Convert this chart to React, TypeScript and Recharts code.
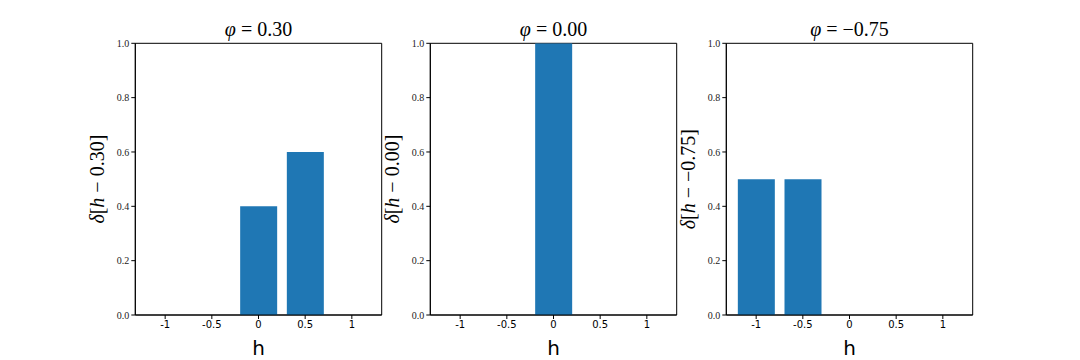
import { BarChart, Bar, XAxis, YAxis, Label, ReferenceArea } from 'recharts';

// support points of the distribution and tick values
const hValues = [-1, -0.5, 0, 0.5, 1];
const xTicks = [-1, -0.5, 0, 0.5, 1];
const yTicks = [0, 0.2, 0.4, 0.6, 0.8, 1];
const xDomain = [-1.32, 1.32];

// phi for each panel and the weight placed on each h
const phiLabels = ['0.30', '0.00', '\u22120.75'];
const weightsPhi030 = [0, 0, 0.4, 0.6, 0];
const weightsPhi000 = [0, 0, 1, 0, 0];
const weightsPhiNeg075 = [0.5, 0.5, 0, 0, 0];

const panelWeights = [weightsPhi030, weightsPhi000, weightsPhiNeg075];

const BLUE = '#1f77b4';
const SERIF = 'Liberation Serif, DejaVu Serif, serif';
const SANS = 'DejaVu Sans, sans-serif';

const CHART_W = 340;
const CHART_H = 360;
const Y_AXIS_W = 40;
const X_AXIS_H = 30;

function Panel({ weights, phi, left }: { weights: number[]; phi: string; left: number }) {
  const data = hValues.map((h, i) => ({ h, w: weights[i] }));

  return (
    <div style={{ position: 'absolute', left, top: 0 }}>
      <BarChart
        width={CHART_W}
        height={CHART_H}
        data={data}
        margin={{ top: 43.3, right: 18.3, left: 75.3 - Y_AXIS_W, bottom: 45 - X_AXIS_H }}
      >
        <XAxis
          dataKey="h"
          type="number"
          domain={xDomain}
          ticks={xTicks}
          allowDataOverflow
          height={X_AXIS_H}
          stroke="#000"
          tickSize={4}
          tick={{ fontSize: 10, fill: '#000', style: { fontFamily: SANS } }}
          tickFormatter={(v: number) => String(v)}
        >
          <Label
            content={({ viewBox }: any) => (
              <text
                x={viewBox.x + viewBox.width / 2}
                y={viewBox.y + 40}
                textAnchor="middle"
                fontSize={20}
                fill="#000"
                style={{ fontFamily: SANS }}
              >
                h
              </text>
            )}
          />
        </XAxis>
        <YAxis
          domain={[0, 1]}
          ticks={yTicks}
          allowDataOverflow
          width={Y_AXIS_W}
          stroke="#000"
          tickSize={4}
          tick={{ fontSize: 10, fill: '#222', style: { fontFamily: SERIF } }}
          tickFormatter={(v: number) => v.toFixed(1)}
        >
          <Label
            content={({ viewBox }: any) => {
              const cx = viewBox.x + 2;
              const cy = viewBox.y + viewBox.height / 2;
              return (
                <text
                  x={cx}
                  y={cy}
                  transform={`rotate(-90 ${cx} ${cy})`}
                  textAnchor="middle"
                  dominantBaseline="central"
                  fontSize={20}
                  fill="#000"
                  style={{ fontFamily: SERIF }}
                >
                  <tspan fontStyle="italic">δ</tspan>[<tspan fontStyle="italic">h</tspan> − {phi}]
                </text>
              );
            }}
          />
        </YAxis>
        <Bar dataKey="w" fill={BLUE} barSize={37} isAnimationActive={false} />
        <ReferenceArea
          x1={xDomain[0]}
          x2={xDomain[1]}
          y1={0}
          y2={1}
          fill="none"
          fillOpacity={0}
          stroke="#000"
          strokeWidth={1}
          ifOverflow="visible"
          label={({ viewBox }: any) => (
            <text
              x={viewBox.x + viewBox.width / 2}
              y={viewBox.y - 7}
              textAnchor="middle"
              fontSize={20}
              fill="#000"
              style={{ fontFamily: SERIF }}
            >
              <tspan fontStyle="italic">φ</tspan> = {phi}
            </text>
          )}
        />
      </BarChart>
    </div>
  );
}

export default function App() {
  return (
    <div style={{ position: 'absolute', left: 0, top: 0, width: 1080, height: 360, background: '#fff' }}>
      {panelWeights.map((w, i) => (
        <Panel key={i} weights={w} phi={phiLabels[i]} left={60 + i * 295.4} />
      ))}
    </div>
  );
}
